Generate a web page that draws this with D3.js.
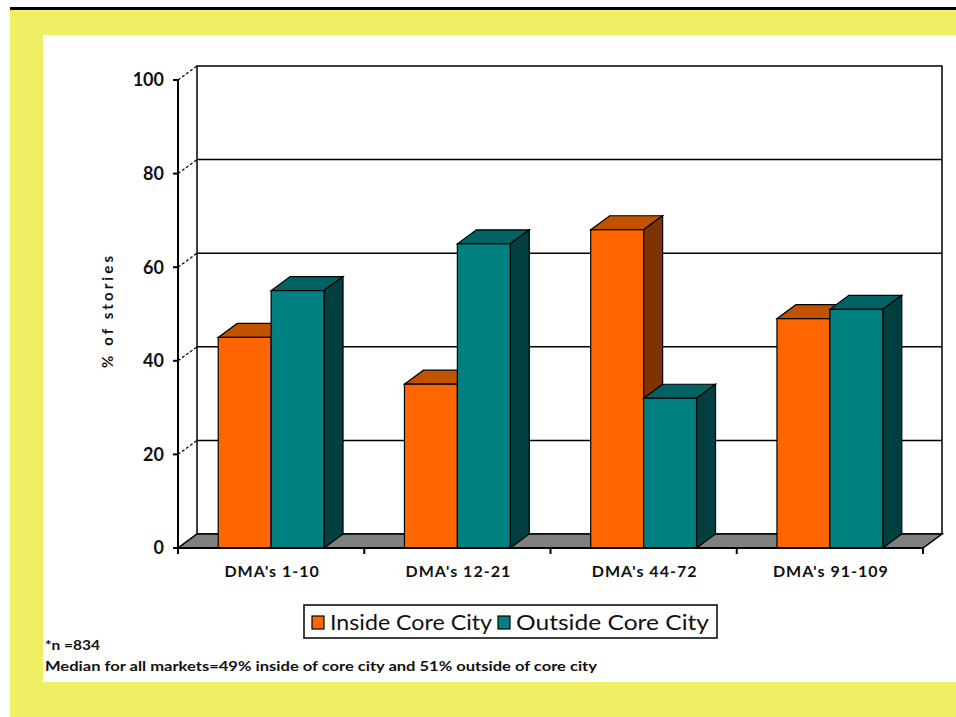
<!DOCTYPE html>
<html>
<head>
<meta charset="utf-8">
<script src="https://cdn.jsdelivr.net/npm/d3@7/dist/d3.min.js"></script>
<style>
  html, body { margin: 0; padding: 0; background: #fff; }
  svg { display: block; }
  text { font-family: Lato, "Open Sans", sans-serif; fill: #000; }
</style>
</head>
<body>
<div id="chart"></div>
<script>
// chart values
const categories = ["DMA's 1-10", "DMA's 12-21", "DMA's 44-72", "DMA's 91-109"];
const insideCore = [45, 35, 68, 49];
const outsideCore = [55, 65, 32, 51];
const seriesNames = ['Inside Core City', 'Outside Core City'];
const yTicks = [0, 20, 40, 60, 80, 100];
const footNotes = ['*n =834', 'Median for all markets=49% inside of core city and 51% outside of core city'];

// faces: front, top, side
const palette = {
    'Inside Core City': ['#FF6600', '#C05200', '#7F3300'],
    'Outside Core City': ['#008080', '#006262', '#004040']
};

const W = 956, H = 717;
const depth = { dx: 19, dy: -14 };

const svg = d3.select('#chart').append('svg')
    .attr('width', W)
    .attr('height', H);

// yellow frame and white panel
svg.append('rect').attr('x', 10).attr('y', 10).attr('width', W - 10).attr('height', H - 10).attr('fill', '#EFEF66');
svg.append('rect').attr('x', 10).attr('y', 7).attr('width', W - 10).attr('height', 3).attr('fill', '#000');
svg.append('rect').attr('x', 43).attr('y', 35).attr('width', W - 43).attr('height', 682 - 35).attr('fill', '#fff');

const y = d3.scaleLinear().domain([0, 100]).range([548, 80]);
const x0 = d3.scaleBand().domain(categories).range([178, 923]);
const x1 = d3.scaleBand().domain(seriesNames).range([0, x0.bandwidth()]).paddingOuter(0.76);

const g = svg.append('g');

// back wall
g.append('rect')
    .attr('x', 178 + depth.dx)
    .attr('y', y(100) + depth.dy)
    .attr('width', 923 - 178)
    .attr('height', y(0) - y(100))
    .attr('fill', '#fff')
    .attr('stroke', '#000')
    .attr('stroke-width', 1.5);

// gridlines on back wall
g.selectAll('.grid')
    .data(yTicks.filter(t => t > 0 && t < 100))
    .enter().append('line')
    .attr('x1', 178 + depth.dx).attr('x2', 923 + depth.dx)
    .attr('y1', d => y(d) + depth.dy).attr('y2', d => y(d) + depth.dy)
    .attr('stroke', '#000').attr('stroke-width', 1.5);

// floor
const floorPts = [[178, y(0)], [923, y(0)], [923 + depth.dx, y(0) + depth.dy], [178 + depth.dx, y(0) + depth.dy]];
g.append('polygon')
    .attr('points', floorPts.map(p => p.join(',')).join(' '))
    .attr('fill', '#808080')
    .attr('stroke', '#000')
    .attr('stroke-width', 1.5);

// diagonal connectors from axis ticks to back wall
g.selectAll('.diag')
    .data(yTicks)
    .enter().append('line')
    .attr('x1', 178).attr('y1', d => y(d))
    .attr('x2', 178 + depth.dx).attr('y2', d => y(d) + depth.dy)
    .attr('stroke', '#000').attr('stroke-width', 1.2)
    .attr('stroke-dasharray', '3,2');

// bars
const rows = [];
categories.forEach((c, i) => {
    rows.push({ cat: c, series: seriesNames[0], value: insideCore[i] });
    rows.push({ cat: c, series: seriesNames[1], value: outsideCore[i] });
});

rows.forEach(d => {
    const xl = x0(d.cat) + x1(d.series);
    const w = x1.bandwidth();
    const yt = y(d.value);
    const yb = y(0);
    const [front, top, side] = palette[d.series];
    const bar = g.append('g').attr('class', 'bar');

    bar.append('polygon')
        .attr('points', [[xl, yt], [xl + w, yt], [xl + w + depth.dx, yt + depth.dy], [xl + depth.dx, yt + depth.dy]].map(p => p.join(',')).join(' '))
        .attr('fill', top).attr('stroke', '#000').attr('stroke-width', 1.2);

    bar.append('polygon')
        .attr('points', [[xl + w, yt], [xl + w + depth.dx, yt + depth.dy], [xl + w + depth.dx, yb + depth.dy], [xl + w, yb]].map(p => p.join(',')).join(' '))
        .attr('fill', side).attr('stroke', '#000').attr('stroke-width', 1.2);

    bar.append('rect')
        .attr('x', xl).attr('y', yt)
        .attr('width', w).attr('height', yb - yt)
        .attr('fill', front).attr('stroke', '#000').attr('stroke-width', 1.2);
});

// front value axis
g.append('line')
    .attr('x1', 178).attr('x2', 178)
    .attr('y1', y(100)).attr('y2', y(0) + 5)
    .attr('stroke', '#000').attr('stroke-width', 2);

g.selectAll('.ytick')
    .data(yTicks)
    .enter().append('line')
    .attr('x1', 173).attr('x2', 178)
    .attr('y1', d => y(d)).attr('y2', d => y(d))
    .attr('stroke', '#000').attr('stroke-width', 2);

g.selectAll('.ylabel')
    .data(yTicks)
    .enter().append('text')
    .attr('x', 164)
    .attr('y', d => y(d))
    .attr('dy', '0.36em')
    .attr('text-anchor', 'end')
    .style('font-size', '18px')
    .style('font-weight', 'bold')
    .style('fill', '#111')
    .text(d => d);

// front category axis
g.append('line')
    .attr('x1', 178).attr('x2', 923)
    .attr('y1', y(0)).attr('y2', y(0))
    .attr('stroke', '#000').attr('stroke-width', 2);

const boundaries = categories.map(c => x0(c)).concat([923]);
g.selectAll('.xtick')
    .data(boundaries)
    .enter().append('line')
    .attr('x1', d => d).attr('x2', d => d)
    .attr('y1', y(0)).attr('y2', y(0) + 6)
    .attr('stroke', '#000').attr('stroke-width', 2);

g.selectAll('.xlabel')
    .data(categories)
    .enter().append('text')
    .attr('x', d => x0(d) + x0.bandwidth() / 2 + 1)
    .attr('y', 577)
    .attr('text-anchor', 'middle')
    .style('font-size', '16px')
    .style('font-weight', 'bold')
    .style('letter-spacing', '1px')
    .style('fill', '#111')
    .text(d => d);

// y axis title
svg.append('text')
    .attr('transform', 'translate(113,312) rotate(-90)')
    .attr('text-anchor', 'middle')
    .attr('textLength', 112)
    .attr('lengthAdjust', 'spacing')
    .style('font-size', '15px')
    .style('font-weight', 'bold')
    .style('fill', '#111')
    .text('% of stories');

// legend
const legend = svg.append('g');
legend.append('rect')
    .attr('x', 304).attr('y', 605)
    .attr('width', 413).attr('height', 33)
    .attr('fill', '#fff').attr('stroke', '#000').attr('stroke-width', 1.5);

const legendX = [312, 498];
const legendLen = [162, 193];
seriesNames.forEach((s, i) => {
    legend.append('rect')
        .attr('x', legendX[i]).attr('y', 616)
        .attr('width', 12).attr('height', 13)
        .attr('fill', palette[s][0]).attr('stroke', '#000').attr('stroke-width', 1.2);
    legend.append('text')
        .attr('x', legendX[i] + 18).attr('y', 630)
        .attr('textLength', legendLen[i])
        .attr('lengthAdjust', 'spacingAndGlyphs')
        .style('font-size', '22px')
        .style('fill', '#111')
        .text(s);
});

// foot notes
const noteLen = [55, 552];
svg.selectAll('.note')
    .data(footNotes)
    .enter().append('text')
    .attr('x', 45)
    .attr('y', (d, i) => i === 0 ? 650 : 671)
    .attr('textLength', (d, i) => noteLen[i])
    .attr('lengthAdjust', 'spacingAndGlyphs')
    .style('font-size', (d, i) => i === 0 ? '14px' : '12.5px')
    .style('font-weight', 'bold')
    .style('fill', '#111')
    .text(d => d);
</script>
</body>
</html>
